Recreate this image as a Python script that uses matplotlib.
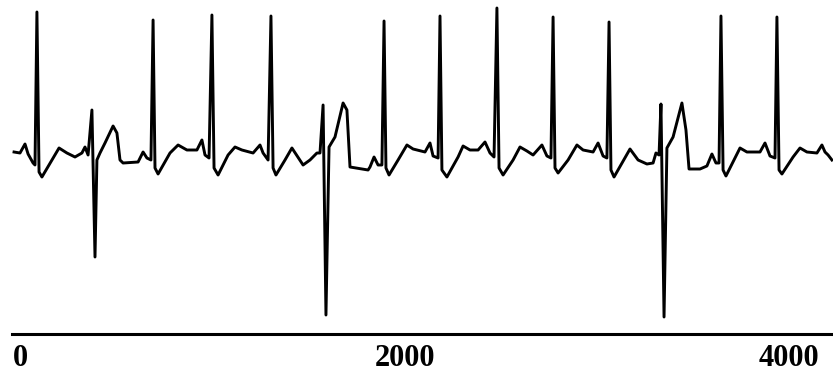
import matplotlib
matplotlib.use("Agg")
import matplotlib.pyplot as plt

# ECG trace: sample index and amplitude (arbitrary units)
samples = [-31, 0, 26, 42, 68, 78, 88, 99, 114, 166, 203, 244, 286, 322, 338, 354,
           374, 390, 400, 416, 442, 484, 504, 520, 536, 614, 640, 660, 681, 692, 702,
           718, 780, 822, 868, 920, 946, 962, 983, 998, 1009, 1030, 1082, 1118, 1154,
           1212, 1248, 1264, 1290, 1305, 1316, 1331, 1378, 1414, 1472, 1508, 1544,
           1560, 1576, 1591, 1607, 1638, 1680, 1700, 1716, 1810, 1820, 1841, 1862,
           1882, 1893, 1903, 1919, 1966, 2012, 2044, 2106, 2132, 2148, 2174, 2184,
           2194, 2220, 2278, 2304, 2340, 2382, 2418, 2444, 2465, 2480, 2491, 2512,
           2564, 2600, 2636, 2668, 2714, 2740, 2761, 2772, 2782, 2798, 2850, 2896,
           2928, 2980, 3006, 3032, 3052, 3063, 3073, 3089, 3172, 3214, 3260, 3292,
           3307, 3323, 3333, 3349, 3364, 3396, 3442, 3463, 3479, 3536, 3572, 3598,
           3619, 3635, 3645, 3656, 3671, 3744, 3780, 3848, 3874, 3900, 3926, 3936,
           3947, 3962, 4020, 4056, 4092, 4144, 4170, 4186, 4202, 4222]
amplitude = [0.00, -0.01, 0.08, -0.02, -0.11, -0.13, 1.40, -0.20, -0.25, -0.08, 0.04,
             -0.01, -0.05, -0.01, 0.05, -0.03, 0.42, -1.05, -0.08, -0.01, 0.09, 0.26,
             0.19, -0.08, -0.11, -0.10, 0.00, -0.06, -0.08, 1.32, -0.16, -0.22, -0.01,
             0.07, 0.02, 0.02, 0.12, -0.03, -0.06, 1.37, -0.16, -0.23, -0.03, 0.05,
             0.02, -0.01, 0.07, -0.01, -0.08, 1.36, -0.16, -0.23, -0.08, 0.04, -0.13,
             -0.08, -0.01, -0.01, 0.47, -1.63, 0.05, 0.15, 0.49, 0.42, -0.15, -0.18,
             -0.15, -0.05, -0.13, -0.13, 1.31, -0.16, -0.23, -0.08, 0.07, 0.03, 0.00,
             0.09, -0.04, -0.06, 1.36, -0.18, -0.25, -0.05, 0.06, 0.02, 0.02, 0.10,
             -0.01, -0.05, 1.44, -0.16, -0.23, -0.08, 0.05, 0.01, -0.03, 0.07, -0.04,
             -0.06, 1.35, -0.16, -0.21, -0.08, 0.07, 0.02, 0.00, 0.09, -0.04, -0.06,
             1.30, -0.18, -0.25, 0.03, -0.08, -0.12, -0.11, -0.01, -0.03, 0.48, -1.65,
             0.04, 0.15, 0.49, 0.22, -0.17, -0.17, -0.14, -0.02, -0.11, -0.11, 1.36,
             -0.18, -0.24, 0.04, 0.00, 0.00, 0.09, -0.04, -0.06, 1.35, -0.18, -0.22,
             -0.05, 0.04, 0.00, -0.01, 0.07, 0.00, -0.03, -0.08]

tick_values = [0, 2000, 4000]
tick_labels = ["0", "2000", "4000"]

fig = plt.figure(figsize=(8.33, 3.73), dpi=100)
ax = fig.add_axes([0, 0, 1, 1])
ax.plot(samples, amplitude, color="black", linewidth=2.1, solid_joinstyle="round")

ax.set_xlim(-104, 4227.6)
ax.set_ylim(-2.21, 1.52)

for s in ["top", "right", "left"]:
    ax.spines[s].set_visible(False)
ax.spines["bottom"].set_position(("data", -1.82))
ax.spines["bottom"].set_linewidth(2.2)
ax.spines["bottom"].set_bounds(-42, 4217)
ax.set_yticks([])
ax.set_xticks(tick_values)
ax.set_xticklabels(tick_labels, fontfamily="Liberation Serif", fontweight="bold",
                   fontsize=22)
ax.tick_params(axis="x", length=0, pad=7)
ax.patch.set_visible(False)

fig.savefig("out.png", dpi=100)
